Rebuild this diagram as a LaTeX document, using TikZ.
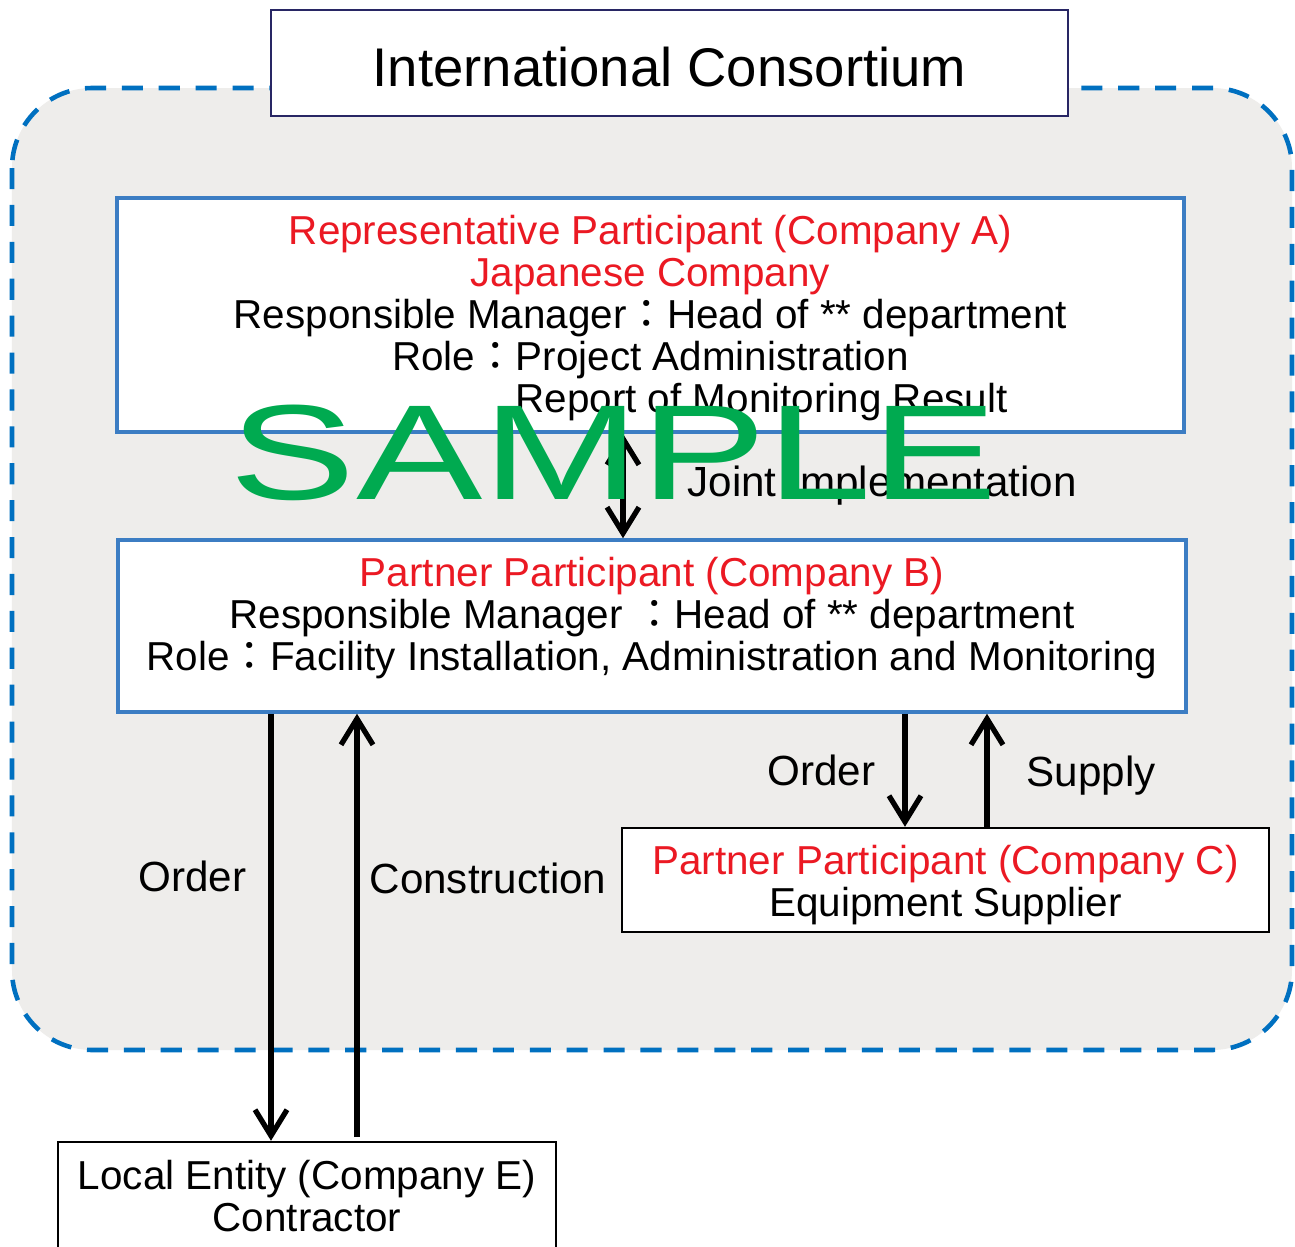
\documentclass[tikz,border=0pt]{standalone}
\usepackage{fontspec}
\setmainfont{Liberation Sans}
\newfontfamily\cjk{Noto Sans CJK JP}
\usepackage{tikz}
\usetikzlibrary{positioning,calc,arrows.meta}

\definecolor{consortblue}{RGB}{0,112,192}
\definecolor{boxblue}{RGB}{60,125,195}
\definecolor{titlenavy}{RGB}{40,38,100}
\definecolor{leadred}{RGB}{235,25,35}
\definecolor{bggray}{RGB}{238,237,235}
\definecolor{samplegreen}{RGB}{0,170,80}

\newcommand{\zcolon}{{\cjk ：}}
% lines of a box, #1 lowers them inside the box (by half of it)
\newcommand{\boxlines}[2]{\raisebox{0pt}[\dimexpr\height+#1\relax][\depth]{\begin{tabular}{@{}c@{}}#2\end{tabular}}}

\begin{document}
\begin{tikzpicture}[
    box/.style={draw=boxblue, line width=1pt, fill=white, inner sep=0pt, font=\fontsize{11.5}{12}\selectfont},
    plainbox/.style={box, draw=black, line width=0.7pt},
    lbl/.style={inner sep=0pt, font=\fontsize{12}{14}\selectfont},
    flow/.style={line width=1.5pt, >={Straight Barb[length=2.6mm,width=3.2mm]}}
]
    \useasboundingbox (0,0) rectangle (12.95,-12.47);
    \fill[white] (0,0) rectangle (12.95,-12.47);

    % Consortium area
    \draw[consortblue, line width=1.3pt, dash pattern=on 6pt off 4.5pt, fill=bggray, rounded corners=0.8cm] (0.12,-0.88) rectangle (12.92,-10.50);
    \node[draw=titlenavy, line width=0.8pt, fill=white, inner sep=0pt, minimum width=7.97cm, minimum height=1.06cm, font=\fontsize{15.5}{18}\selectfont] (title) at (6.695,-0.63) {\boxlines{0.22cm}{International Consortium}};

    % Participants
    \node[box, minimum width=10.67cm, minimum height=2.34cm] (compA) at (6.505,-3.15) {\boxlines{0.1cm}{\textcolor{leadred}{Representative Participant (Company A)}\\
        \textcolor{leadred}{Japanese Company}\\
        Responsible Manager\zcolon Head of ** department\\
        Role\zcolon Project Administration\\
        \hspace*{2.22cm}Report of Monitoring Result}};
    \node[box, minimum width=10.68cm, minimum height=1.72cm] (compB) at (6.52,-6.26) {\boxlines{-0.12cm}{\textcolor{leadred}{Partner Participant (Company B)}\\
        Responsible Manager \zcolon Head of ** department\\
        Role\zcolon Facility Installation, Administration and Monitoring}};
    \node[plainbox, minimum width=6.47cm, minimum height=1.04cm] (compC) at (9.455,-8.80) {\boxlines{0.14cm}{\textcolor{leadred}{Partner Participant (Company C)}\\
        Equipment Supplier}};
    \node[plainbox, minimum width=4.98cm, minimum height=1.1cm] (compE) at (3.07,-11.97) {\boxlines{0.1cm}{Local Entity (Company E)\\
        Contractor}};

    % Arrow positions
    \coordinate (xjoint) at (6.23,0);
    \coordinate (xorderE) at (2.71,0);
    \coordinate (consStart) at (3.57,-11.37);
    \coordinate (xorderC) at (9.05,0);
    \coordinate (xsupply) at (9.87,0);

    % Flows
    \draw[flow, <->] (compA.south -| xjoint) -- (compB.north -| xjoint) node[lbl, midway, right=0.62cm] (joint) {Joint Implementation};
    \draw[flow, ->] (compB.south -| xorderE) -- (compE.north -| xorderE) node[lbl, pos=0.38, left=0.22cm] (orderE) {Order};
    \draw[flow, ->] (consStart) -- (compB.south -| consStart) node[lbl, pos=0.61, right=0.1cm] (cons) {Construction};
    \draw[flow, ->] (compB.south -| xorderC) -- (compC.north -| xorderC) node[lbl, midway, left=0.27cm] (orderC) {Order};
    \draw[flow, ->] (compC.north -| xsupply) -- (compB.south -| xsupply) node[lbl, pos=0.45, right=0.37cm] (supply) {Supply};

    % Watermark
    \node[text=samplegreen, inner sep=0pt] (sample) at (6.14,-4.53) {\scalebox{1.4}[1]{\fontsize{38.5}{40}\selectfont SAMPLE}};
\end{tikzpicture}
\end{document}
